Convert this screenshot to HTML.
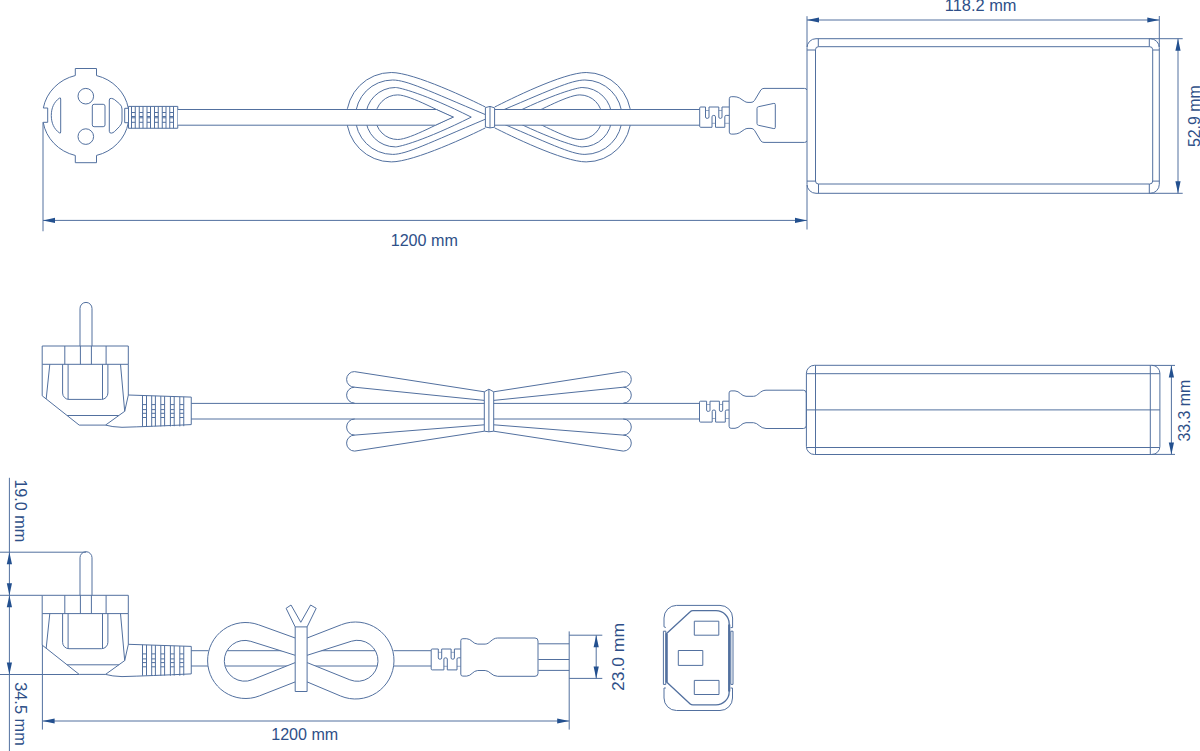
<!DOCTYPE html>
<html><head><meta charset="utf-8"><style>
html,body{margin:0;padding:0;background:#fff;width:1200px;height:751px;overflow:hidden}
svg{display:block}
text{font-family:"Liberation Sans",sans-serif;fill:#2e4f88;stroke:none}
</style></head><body>
<svg width="1200" height="751" viewBox="0 0 1200 751">
<g fill="none" stroke="#52709f" stroke-width="1" stroke-linejoin="round">
<path d="M75.3 75.54V68.5H96.5V75.58A43.2 41.2 0 0 1 128.34 108.3H124.7V122.7H128.34A43.2 41.2 0 0 1 96.5 155.42V162.7H75.3V155.46A43.2 41.2 0 0 1 43.19 122.3H47.7V108H43.32A43.2 41.2 0 0 1 75.3 75.54Z" fill="none" />
<circle cx="85.8" cy="96.2" r="7.8" fill="none"/>
<circle cx="85.8" cy="136.6" r="7.8" fill="none"/>
<rect x="92.3" y="104.3" width="12.7" height="22.4" rx="1.8" fill="none"/>
<path d="M60.7 99Q60.7 97.3 59.3 98.2C54 102 51.3 108 51.3 115.5C51.3 123 54 129 59.3 132.8Q60.7 133.7 60.7 132Z" fill="none" />
<path d="M109.3 100Q109.3 98 111.5 98.4Q113 98.6 114.5 99.6L119.5 103.8Q122 106 122 109V121Q122 124 119.5 126.5L114.5 131.6Q113 132.9 111.5 133.1Q109.3 133.3 109.3 131.3Z" fill="none" />
<rect x="128.5" y="106.4" width="49.25" height="21.85" fill="#fff"/>
<line x1="131.5" y1="106.4" x2="131.5" y2="128.25"/>
<line x1="135.25" y1="106.4" x2="135.25" y2="128.25"/>
<line x1="131.5" y1="112.5" x2="135.25" y2="112.5"/>
<line x1="131.5" y1="116.5" x2="135.25" y2="116.5"/>
<line x1="131.5" y1="117.8" x2="135.25" y2="117.8"/>
<line x1="131.5" y1="122.3" x2="135.25" y2="122.3"/>
<line x1="139.25" y1="106.4" x2="139.25" y2="128.25"/>
<line x1="143" y1="106.4" x2="143" y2="128.25"/>
<line x1="139.25" y1="112.5" x2="143" y2="112.5"/>
<line x1="139.25" y1="116.5" x2="143" y2="116.5"/>
<line x1="139.25" y1="117.8" x2="143" y2="117.8"/>
<line x1="139.25" y1="122.3" x2="143" y2="122.3"/>
<line x1="147" y1="106.4" x2="147" y2="128.25"/>
<line x1="150.5" y1="106.4" x2="150.5" y2="128.25"/>
<line x1="147" y1="112.5" x2="150.5" y2="112.5"/>
<line x1="147" y1="116.5" x2="150.5" y2="116.5"/>
<line x1="147" y1="117.8" x2="150.5" y2="117.8"/>
<line x1="147" y1="122.3" x2="150.5" y2="122.3"/>
<line x1="154.5" y1="106.4" x2="154.5" y2="128.25"/>
<line x1="158.25" y1="106.4" x2="158.25" y2="128.25"/>
<line x1="154.5" y1="112.5" x2="158.25" y2="112.5"/>
<line x1="154.5" y1="116.5" x2="158.25" y2="116.5"/>
<line x1="154.5" y1="117.8" x2="158.25" y2="117.8"/>
<line x1="154.5" y1="122.3" x2="158.25" y2="122.3"/>
<line x1="162.25" y1="106.4" x2="162.25" y2="128.25"/>
<line x1="166" y1="106.4" x2="166" y2="128.25"/>
<line x1="162.25" y1="112.5" x2="166" y2="112.5"/>
<line x1="162.25" y1="116.5" x2="166" y2="116.5"/>
<line x1="162.25" y1="117.8" x2="166" y2="117.8"/>
<line x1="162.25" y1="122.3" x2="166" y2="122.3"/>
<line x1="169.75" y1="106.4" x2="169.75" y2="128.25"/>
<line x1="173.5" y1="106.4" x2="173.5" y2="128.25"/>
<line x1="169.75" y1="112.5" x2="173.5" y2="112.5"/>
<line x1="169.75" y1="116.5" x2="173.5" y2="116.5"/>
<line x1="169.75" y1="117.8" x2="173.5" y2="117.8"/>
<line x1="169.75" y1="122.3" x2="173.5" y2="122.3"/>
<line x1="43" y1="122.3" x2="43" y2="231.25"/>
<path d="M485.4 107C471.4 100 414.3 72.5 391.3 72.5A44.7 44.7 0 0 0 391.3 161.9C414.3 161.9 471.4 134.9 485.4 127.9" fill="none" />
<path d="M494.7 107C508.7 100 563.2 72.5 586.2 72.5A44.7 44.7 0 0 1 586.2 161.9C563.2 161.9 508.7 134.9 494.7 127.9" fill="none" />
<path d="M485.4 114.6C428.4 90.66 406.6 80 392.6 80A37.2 37.2 0 0 0 392.6 154.4C406.6 154.4 428.4 143.14 485.4 119.2" fill="none" />
<path d="M492.1 114.6C549.1 90.66 570.9 80 584.9 80A37.2 37.2 0 0 1 584.9 154.4C570.9 154.4 549.1 143.14 492.1 119.2" fill="none" />
<path d="M471.25 117.1C424.25 93.6 399.4 87.5 395.4 87.5A29.7 29.7 0 0 0 395.4 146.9C399.4 146.9 424.25 140.6 471.25 117.1" fill="none" />
<path d="M506.25 117.1C553.25 93.6 578.1 87.5 582.1 87.5A29.7 29.7 0 0 1 582.1 146.9C578.1 146.9 553.25 140.6 506.25 117.1" fill="none" />
<path d="M453.3 117.1C444.3 114.4 410.7 94.9 397.7 94.9A22.3 22.3 0 0 0 397.7 139.5C410.7 139.5 444.3 119.8 453.3 117.1" fill="none" />
<path d="M524.2 117.1C533.2 114.4 566.8 94.9 579.8 94.9A22.3 22.3 0 0 1 579.8 139.5C566.8 139.5 533.2 119.8 524.2 117.1" fill="none" />
<path d="M177.75 109.5H436.45L453.3 117.1L435.53 125.2H177.75Z" fill="#fff" stroke="none"/>
<line x1="177.75" y1="109.5" x2="436.45" y2="109.5"/>
<line x1="177.75" y1="125.2" x2="435.53" y2="125.2"/>
<path d="M436.45 109.5L453.3 117.1L435.53 125.2" fill="none" />
<rect x="494.6" y="109.5" width="205.1" height="15.7" fill="#fff" stroke-width="0"/>
<line x1="494.6" y1="109.5" x2="699.7" y2="109.5"/>
<line x1="494.6" y1="125.2" x2="699.7" y2="125.2"/>
<path d="M485.4 107.6L490 106.4L494.6 107.9V127.2L490 127.9L485.4 127Z" fill="#fff" />
<line x1="490" y1="106.4" x2="490" y2="127.9"/>
<path d="M699.7 108Q699.7 107 700.7 107H705.5V117Q705.5 118.4 707.25 118.4Q709 118.4 709 117V107H718.8V117Q718.8 118.4 720.4 118.4Q722 118.4 722 117V107H729.3" fill="none" />
<path d="M699.7 108V126.3Q699.7 127.3 700.7 127.3H712V116.8Q712 115.4 713.75 115.4Q715.5 115.4 715.5 116.8V127.3H724.8V116.8Q724.8 115.4 726.2 115.4H729.3" fill="none" />
<line x1="705.5" y1="110.5" x2="709" y2="110.5" stroke-width="0.6"/>
<line x1="718.8" y1="110.5" x2="722" y2="110.5" stroke-width="0.6"/>
<line x1="712" y1="123.3" x2="715.5" y2="123.3" stroke-width="0.6"/>
<line x1="724.8" y1="123.3" x2="729.3" y2="123.3" stroke-width="0.6"/>
<path d="M806.7 90Q806.7 88.4 804.5 88.4H764Q762 88.4 760.8 90L754.5 100.5Q753.2 102.4 751 102.4H748Q746 102.4 744.3 101.2L739.5 98Q737 96.7 734 96.7H731.3Q729.3 96.7 729.3 98.7V132.1Q729.3 134.1 731.3 134.1H734Q737 134.1 739.5 132.8L744.3 129.6Q746 128.4 748 128.4H751Q753.2 128.4 754.5 130.3L760.8 140.8Q762 142.4 764 142.4H804.5Q806.7 142.4 806.7 140.8" fill="#fff" />
<path d="M758.5 106.7L773.8 103.4Q775.3 103.1 775.3 104.6V127.4Q775.3 128.9 773.8 128.6L758.5 125.3Q757 125 757 123.5V108.5Q757 107 758.5 106.7Z" fill="none" />
<rect x="807" y="38.7" width="352.3" height="154.6" rx="9" fill="none"/>
<rect x="815.5" y="46.7" width="337.2" height="137.3" rx="3" fill="none"/>
<line x1="818.3" y1="38.7" x2="818.3" y2="46.7"/>
<line x1="807" y1="50" x2="815.5" y2="50"/>
<line x1="1149.3" y1="38.7" x2="1149.3" y2="46.7"/>
<line x1="1152.7" y1="50" x2="1159.3" y2="50"/>
<line x1="818.5" y1="184" x2="818.5" y2="193.3"/>
<line x1="807" y1="181.1" x2="815.5" y2="181.1"/>
<line x1="1149.3" y1="184" x2="1149.3" y2="193.3"/>
<line x1="1152.7" y1="181.1" x2="1159.3" y2="181.1"/>
<line x1="807" y1="16.2" x2="807" y2="47"/>
<line x1="807" y1="185" x2="807" y2="229.5"/>
<line x1="1159.3" y1="16" x2="1159.3" y2="47"/>
<line x1="807" y1="20" x2="1159.3" y2="20"/>
<polygon points="807,20 819,17.4 819,22.6" fill="#23508f" stroke="none"/>
<polygon points="1159.3,20 1147.3,17.4 1147.3,22.6" fill="#23508f" stroke="none"/>
<text x="944.8" y="11" font-size="16" textLength="71.7" lengthAdjust="spacingAndGlyphs">118.2 mm</text>
<line x1="1149.5" y1="38.7" x2="1182.7" y2="38.7"/>
<line x1="1149.5" y1="193.3" x2="1182.7" y2="193.3"/>
<line x1="1178" y1="38.7" x2="1178" y2="193.3"/>
<polygon points="1178,38.7 1175.4,50.7 1180.6,50.7" fill="#23508f" stroke="none"/>
<polygon points="1178,193.3 1175.4,181.3 1180.6,181.3" fill="#23508f" stroke="none"/>
<text x="1199.6" y="147.1" font-size="16" textLength="61.9" lengthAdjust="spacingAndGlyphs" transform="rotate(-90 1199.6 147.1)">52.9 mm</text>
<line x1="43" y1="220.4" x2="807" y2="220.4"/>
<polygon points="43,220.4 55,217.8 55,223" fill="#23508f" stroke="none"/>
<polygon points="807,220.4 795,217.8 795,223" fill="#23508f" stroke="none"/>
<text x="390.7" y="245.8" font-size="16" textLength="67.2" lengthAdjust="spacingAndGlyphs">1200 mm</text>
<g transform="translate(0 0)">
<path d="M80 346V308.4A6 6 0 0 1 92 308.4V346" fill="none" />
<rect x="42.2" y="346" width="86.1" height="18.3" fill="none"/>
<line x1="64.8" y1="346" x2="64.8" y2="364.3"/>
<line x1="80.4" y1="346" x2="80.4" y2="364.3"/>
<line x1="91.4" y1="346" x2="91.4" y2="364.3"/>
<line x1="106.1" y1="346" x2="106.1" y2="364.3"/>
<path d="M42.2 364.3V395.8L79.2 425.1H105.5L124.7 411.3L128.3 395.2V364.3" fill="none" />
<line x1="49.8" y1="364.3" x2="46.2" y2="398.9"/>
<line x1="120.5" y1="364.3" x2="124.7" y2="411.3"/>
<line x1="67.1" y1="415.5" x2="118.9" y2="415.5"/>
<path d="M62.6 364.3V393A6.4 6.4 0 0 0 69 399.4H101.5A6.4 6.4 0 0 0 107.9 393V364.3" fill="none" />
<line x1="68.1" y1="364.3" x2="68.1" y2="399.4"/>
<line x1="102.5" y1="364.3" x2="102.5" y2="399.4"/>
<path d="M128.3 395L191.25 397.1V424.6Q150 426.5 122 427.3Q112 427 105.5 425.1" fill="none" />
<line x1="142.5" y1="395.47" x2="142.5" y2="426.4"/>
<line x1="146.5" y1="395.61" x2="146.5" y2="426.2"/>
<line x1="142.5" y1="404.6" x2="146.5" y2="404.6"/>
<line x1="142.5" y1="409.6" x2="146.5" y2="409.6"/>
<line x1="142.5" y1="413.3" x2="146.5" y2="413.3"/>
<line x1="142.5" y1="417.5" x2="146.5" y2="417.5"/>
<line x1="151.7" y1="395.78" x2="151.7" y2="426.4"/>
<line x1="155.4" y1="395.9" x2="155.4" y2="426.2"/>
<line x1="151.7" y1="404.6" x2="155.4" y2="404.6"/>
<line x1="151.7" y1="409.6" x2="155.4" y2="409.6"/>
<line x1="151.7" y1="413.3" x2="155.4" y2="413.3"/>
<line x1="151.7" y1="417.5" x2="155.4" y2="417.5"/>
<line x1="160.8" y1="396.08" x2="160.8" y2="426.4"/>
<line x1="164.6" y1="396.21" x2="164.6" y2="426.2"/>
<line x1="160.8" y1="404.6" x2="164.6" y2="404.6"/>
<line x1="160.8" y1="409.6" x2="164.6" y2="409.6"/>
<line x1="160.8" y1="413.3" x2="164.6" y2="413.3"/>
<line x1="160.8" y1="417.5" x2="164.6" y2="417.5"/>
<line x1="170.4" y1="396.4" x2="170.4" y2="426.4"/>
<line x1="174.2" y1="396.53" x2="174.2" y2="426.2"/>
<line x1="170.4" y1="404.6" x2="174.2" y2="404.6"/>
<line x1="170.4" y1="409.6" x2="174.2" y2="409.6"/>
<line x1="170.4" y1="413.3" x2="174.2" y2="413.3"/>
<line x1="170.4" y1="417.5" x2="174.2" y2="417.5"/>
<line x1="179.8" y1="396.72" x2="179.8" y2="426.4"/>
<line x1="183.75" y1="396.85" x2="183.75" y2="426.2"/>
<line x1="179.8" y1="404.6" x2="183.75" y2="404.6"/>
<line x1="179.8" y1="409.6" x2="183.75" y2="409.6"/>
<line x1="179.8" y1="413.3" x2="183.75" y2="413.3"/>
<line x1="179.8" y1="417.5" x2="183.75" y2="417.5"/>
</g>
<line x1="191.25" y1="403.4" x2="699.5" y2="403.4"/>
<line x1="191.25" y1="419" x2="699.5" y2="419"/>
<path d="M484.3 391.8L354.4 371.6A7.8 7.8 0 0 0 354.4 387.2L484.3 400.4" fill="none" />
<path d="M493.7 391.8L623.5 371.6A7.8 7.8 0 0 1 623.5 387.2L493.7 400.4" fill="none" />
<path d="M354.55 387.2A7.95 7.95 0 0 0 354.55 403.1" fill="none" />
<path d="M623.35 387.2A7.95 7.95 0 0 1 623.35 403.1" fill="none" />
<path d="M354.65 419A8.05 8.05 0 0 0 354.65 435.1" fill="none" />
<path d="M623.25 419A8.05 8.05 0 0 1 623.25 435.1" fill="none" />
<path d="M484.3 424.8L354.6 435.1A8 8 0 0 0 354.6 451.1L484.3 431.2" fill="none" />
<path d="M493.7 424.8L623.3 435.1A8 8 0 0 1 623.3 451.1L493.7 431.2" fill="none" />
<path d="M484.3 391.8L488.9 389.2L493.7 391.8V431.2L488.9 431.8L484.3 431.2Z" fill="#fff" />
<line x1="488.9" y1="389.2" x2="488.9" y2="431.8"/>
<g transform="translate(0 0)">
<path d="M699.5 402.2Q699.5 401.2 700.5 401.2H706.6V410.2Q706.6 411.4 708.3 411.4Q710 411.4 710 410.2V401.2H719.4V410.2Q719.4 411.4 721 411.4Q722.7 411.4 722.7 410.2V401.2H729.1" fill="none" />
<path d="M699.5 402.2V421.1Q699.5 422.1 700.5 422.1H712.2V411.2Q712.2 410 713.9 410Q715.6 410 715.6 411.2V422.1H725.3V411.2Q725.3 410 726.9 410H729.1" fill="none" />
<line x1="706.6" y1="404.5" x2="710" y2="404.5" stroke-width="0.6"/>
<line x1="719.4" y1="404.5" x2="722.7" y2="404.5" stroke-width="0.6"/>
<line x1="712.2" y1="418.5" x2="715.6" y2="418.5" stroke-width="0.6"/>
<line x1="725.3" y1="418.5" x2="729.1" y2="418.5" stroke-width="0.6"/>
<path d="M806.3 393.2Q806.3 390.2 803.3 390.2H766C760 390.2 758 396.3 753.5 396.3H746C741.5 396.3 739.5 390.9 735 390.9H731.1Q729.1 390.9 729.1 392.9V426.3Q729.1 428.3 731.1 428.3H735C739.5 428.3 741.5 422.7 746 422.7H753.5C758 422.7 760 428.5 766 428.5H803.3Q806.3 428.5 806.3 425.5Z" fill="#fff" />
</g>
<rect x="806.4" y="365.3" width="353.5" height="89.2" rx="8" fill="none"/>
<line x1="815.5" y1="365.3" x2="815.5" y2="454.5"/>
<line x1="1150.3" y1="365.3" x2="1150.3" y2="454.5"/>
<line x1="806.4" y1="373.7" x2="1159.9" y2="373.7"/>
<line x1="806.4" y1="409.9" x2="1159.9" y2="409.9"/>
<line x1="806.4" y1="447.5" x2="1159.9" y2="447.5"/>
<line x1="1151.5" y1="365.4" x2="1175" y2="365.4"/>
<line x1="1151.5" y1="454.4" x2="1175" y2="454.4"/>
<line x1="1171.4" y1="365.4" x2="1171.4" y2="454.4"/>
<polygon points="1171.4,365.4 1168.8,377.4 1174,377.4" fill="#23508f" stroke="none"/>
<polygon points="1171.4,454.4 1168.8,442.4 1174,442.4" fill="#23508f" stroke="none"/>
<text x="1190.3" y="441.6" font-size="16" textLength="62" lengthAdjust="spacingAndGlyphs" transform="rotate(-90 1190.3 441.6)">33.3 mm</text>
<g transform="translate(0 249.3)">
<path d="M80 346V308.4A6 6 0 0 1 92 308.4V346" fill="none" />
<rect x="42.2" y="346" width="86.1" height="18.3" fill="none"/>
<line x1="64.8" y1="346" x2="64.8" y2="364.3"/>
<line x1="80.4" y1="346" x2="80.4" y2="364.3"/>
<line x1="91.4" y1="346" x2="91.4" y2="364.3"/>
<line x1="106.1" y1="346" x2="106.1" y2="364.3"/>
<path d="M42.2 364.3V395.8L79.2 425.1H105.5L124.7 411.3L128.3 395.2V364.3" fill="none" />
<line x1="49.8" y1="364.3" x2="46.2" y2="398.9"/>
<line x1="120.5" y1="364.3" x2="124.7" y2="411.3"/>
<line x1="67.1" y1="415.5" x2="118.9" y2="415.5"/>
<path d="M62.6 364.3V393A6.4 6.4 0 0 0 69 399.4H101.5A6.4 6.4 0 0 0 107.9 393V364.3" fill="none" />
<line x1="68.1" y1="364.3" x2="68.1" y2="399.4"/>
<line x1="102.5" y1="364.3" x2="102.5" y2="399.4"/>
<path d="M128.3 395L191.25 397.1V424.6Q150 426.5 122 427.3Q112 427 105.5 425.1" fill="none" />
<line x1="142.5" y1="395.47" x2="142.5" y2="426.4"/>
<line x1="146.5" y1="395.61" x2="146.5" y2="426.2"/>
<line x1="142.5" y1="404.6" x2="146.5" y2="404.6"/>
<line x1="142.5" y1="409.6" x2="146.5" y2="409.6"/>
<line x1="142.5" y1="413.3" x2="146.5" y2="413.3"/>
<line x1="142.5" y1="417.5" x2="146.5" y2="417.5"/>
<line x1="151.7" y1="395.78" x2="151.7" y2="426.4"/>
<line x1="155.4" y1="395.9" x2="155.4" y2="426.2"/>
<line x1="151.7" y1="404.6" x2="155.4" y2="404.6"/>
<line x1="151.7" y1="409.6" x2="155.4" y2="409.6"/>
<line x1="151.7" y1="413.3" x2="155.4" y2="413.3"/>
<line x1="151.7" y1="417.5" x2="155.4" y2="417.5"/>
<line x1="160.8" y1="396.08" x2="160.8" y2="426.4"/>
<line x1="164.6" y1="396.21" x2="164.6" y2="426.2"/>
<line x1="160.8" y1="404.6" x2="164.6" y2="404.6"/>
<line x1="160.8" y1="409.6" x2="164.6" y2="409.6"/>
<line x1="160.8" y1="413.3" x2="164.6" y2="413.3"/>
<line x1="160.8" y1="417.5" x2="164.6" y2="417.5"/>
<line x1="170.4" y1="396.4" x2="170.4" y2="426.4"/>
<line x1="174.2" y1="396.53" x2="174.2" y2="426.2"/>
<line x1="170.4" y1="404.6" x2="174.2" y2="404.6"/>
<line x1="170.4" y1="409.6" x2="174.2" y2="409.6"/>
<line x1="170.4" y1="413.3" x2="174.2" y2="413.3"/>
<line x1="170.4" y1="417.5" x2="174.2" y2="417.5"/>
<line x1="179.8" y1="396.72" x2="179.8" y2="426.4"/>
<line x1="183.75" y1="396.85" x2="183.75" y2="426.2"/>
<line x1="179.8" y1="404.6" x2="183.75" y2="404.6"/>
<line x1="179.8" y1="409.6" x2="183.75" y2="409.6"/>
<line x1="179.8" y1="413.3" x2="183.75" y2="413.3"/>
<line x1="179.8" y1="417.5" x2="183.75" y2="417.5"/>
</g>
<line x1="9.4" y1="477.8" x2="9.4" y2="751"/>
<line x1="0" y1="552.2" x2="86" y2="552.2"/>
<line x1="0" y1="595.3" x2="42.2" y2="595.3"/>
<line x1="0" y1="674.5" x2="79" y2="674.5"/>
<polygon points="9.4,552.2 6.8,564.2 12,564.2" fill="#23508f" stroke="none"/>
<polygon points="9.4,595.3 6.8,583.3 12,583.3" fill="#23508f" stroke="none"/>
<polygon points="9.4,595.3 6.8,607.3 12,607.3" fill="#23508f" stroke="none"/>
<polygon points="9.4,674.5 6.8,662.5 12,662.5" fill="#23508f" stroke="none"/>
<text x="15.2" y="479.4" font-size="16" textLength="62.8" lengthAdjust="spacingAndGlyphs" transform="rotate(90 15.2 479.4)">19.0 mm</text>
<text x="15.2" y="682.2" font-size="16" textLength="63.6" lengthAdjust="spacingAndGlyphs" transform="rotate(90 15.2 682.2)">34.5 mm</text>
<line x1="42.4" y1="645" x2="42.4" y2="729.6"/>
<line x1="42.6" y1="721" x2="569.2" y2="721"/>
<polygon points="42.6,721 54.6,718.4 54.6,723.6" fill="#23508f" stroke="none"/>
<polygon points="569.2,721 557.2,718.4 557.2,723.6" fill="#23508f" stroke="none"/>
<text x="271.2" y="739.6" font-size="16" textLength="67.1" lengthAdjust="spacingAndGlyphs">1200 mm</text>
<defs><clipPath id="ci"><path d="M295.2 655.3L250.82 641.34A20.4 20.4 0 1 0 252.27 679.75L295.2 662.6ZM307.1 655.3L351.29 641.26A20.5 20.5 0 1 1 349.84 679.82L307.1 662.6Z"/></clipPath></defs>
<line x1="191.2" y1="650.7" x2="208.5" y2="650.7"/>
<line x1="191.2" y1="666" x2="208.5" y2="666"/>
<line x1="393.5" y1="650.7" x2="431" y2="650.7"/>
<line x1="393.5" y1="666" x2="431" y2="666"/>
<path d="M295.2 638L258.5 624.76A38 38 0 1 0 259.44 695.89L295.2 681.9" fill="#fff" />
<path d="M307.1 638L341.56 624.61A38.5 38.5 0 1 1 340.56 695.99L307.1 681.9" fill="#fff" />
<path d="M295.2 655.3L250.82 641.34A20.4 20.4 0 1 0 252.27 679.75L295.2 662.6" fill="none" />
<path d="M307.1 655.3L351.29 641.26A20.5 20.5 0 1 1 349.84 679.82L307.1 662.6" fill="none" />
<g clip-path="url(#ci)">
<line x1="200" y1="650.7" x2="400" y2="650.7"/>
<line x1="200" y1="666" x2="400" y2="666"/>
</g>
<path d="M295.2 626.9L286.1 608.3L291 605L300.8 622.3L310.6 605L316.2 608.3L307.1 626.9V691.5H295.2Z" fill="#fff" />
<line x1="295.2" y1="626.9" x2="307.1" y2="626.9"/>
<g transform="translate(-268.3 247.8)">
<path d="M699.5 402.2Q699.5 401.2 700.5 401.2H706.6V410.2Q706.6 411.4 708.3 411.4Q710 411.4 710 410.2V401.2H719.4V410.2Q719.4 411.4 721 411.4Q722.7 411.4 722.7 410.2V401.2H729.1" fill="none" />
<path d="M699.5 402.2V421.1Q699.5 422.1 700.5 422.1H712.2V411.2Q712.2 410 713.9 410Q715.6 410 715.6 411.2V422.1H725.3V411.2Q725.3 410 726.9 410H729.1" fill="none" />
<line x1="706.6" y1="404.5" x2="710" y2="404.5" stroke-width="0.6"/>
<line x1="719.4" y1="404.5" x2="722.7" y2="404.5" stroke-width="0.6"/>
<line x1="712.2" y1="418.5" x2="715.6" y2="418.5" stroke-width="0.6"/>
<line x1="725.3" y1="418.5" x2="729.1" y2="418.5" stroke-width="0.6"/>
<path d="M806.3 393.2Q806.3 390.2 803.3 390.2H766C760 390.2 758 396.3 753.5 396.3H746C741.5 396.3 739.5 390.9 735 390.9H731.1Q729.1 390.9 729.1 392.9V426.3Q729.1 428.3 731.1 428.3H735C739.5 428.3 741.5 422.7 746 422.7H753.5C758 422.7 760 428.5 766 428.5H803.3Q806.3 428.5 806.3 425.5Z" fill="#fff" />
</g>
<line x1="538.4" y1="643.8" x2="569.2" y2="643.8"/>
<line x1="538.4" y1="659.5" x2="569.2" y2="659.5"/>
<line x1="538.4" y1="670.4" x2="569.2" y2="670.4"/>
<line x1="569.2" y1="631.4" x2="569.2" y2="729.6"/>
<line x1="569.2" y1="635.2" x2="602.3" y2="635.2"/>
<line x1="569.2" y1="678.4" x2="602.3" y2="678.4"/>
<line x1="596.2" y1="635.2" x2="596.2" y2="678.4"/>
<polygon points="596.2,635.2 593.6,647.2 598.8,647.2" fill="#23508f" stroke="none"/>
<polygon points="596.2,678.4 593.6,666.4 598.8,666.4" fill="#23508f" stroke="none"/>
<text x="623.8" y="691" font-size="16" textLength="68" lengthAdjust="spacingAndGlyphs" transform="rotate(-90 623.8 691)">23.0  mm</text>
<path d="M665.8 627.5L664 626.8V618A12.6 12.6 0 0 1 676.6 605.4H720A12.6 12.6 0 0 1 732.6 618V627.6L730.6 627.6" fill="none" />
<path d="M665.8 688L664 688V698A12.5 12.5 0 0 0 676.5 710.5H720A12.5 12.5 0 0 0 732.5 698V688H730.6" fill="none" />
<rect x="663.4" y="631.2" width="2.4" height="53.2" fill="none"/>
<rect x="730.8" y="631.2" width="2.2" height="53.2" fill="none"/>
<path d="M666.6 633.6L690.2 611.8Q691.2 610.7 693 610.7H716A13.2 13.2 0 0 1 729.2 623.9V691.7A13.2 13.2 0 0 1 716 704.9H693Q691.2 704.9 690.2 704L666.6 682.1Z" fill="none" stroke-width="1.3" />
<line x1="666.6" y1="633.6" x2="666.6" y2="682.1" stroke-width="2.2"/>
<line x1="729.2" y1="624.5" x2="729.2" y2="691.5" stroke-width="2.2"/>
<rect x="694.3" y="621.2" width="24.5" height="14" fill="none"/>
<rect x="678.3" y="650.5" width="24.5" height="14.9" fill="none"/>
<rect x="694.3" y="680.4" width="24.7" height="14.1" fill="none"/>
</g>
</svg>
</body></html>
